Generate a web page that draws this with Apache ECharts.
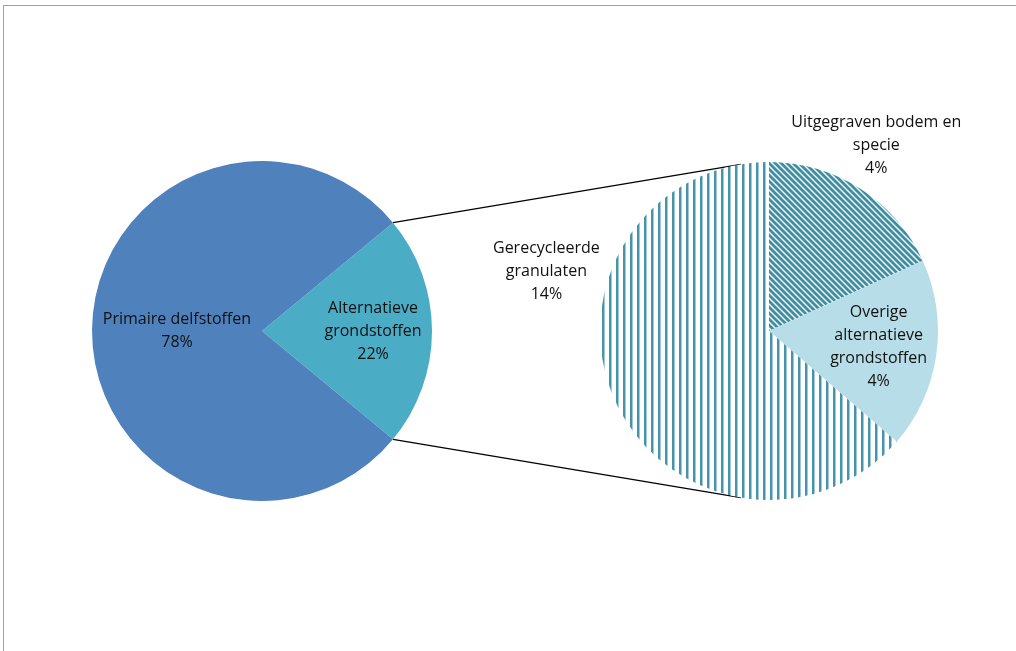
<!DOCTYPE html>
<html>
<head>
<meta charset="utf-8">
<script src="https://cdn.jsdelivr.net/npm/echarts@6/dist/echarts.min.js"></script>
<style>
html,body{margin:0;padding:0;background:#fff;}
#main{position:absolute;left:0;top:0;width:1016px;height:651px;}
#frame{position:absolute;left:3px;top:5px;width:1013px;height:646px;border-left:1px solid #a0a0a0;border-top:1px solid #a0a0a0;pointer-events:none;}
</style>
</head>
<body>
<div id="main"></div>
<div id="frame"></div>
<script>
// hoofdverdeling (linker taart)
var mainNames=['Alternatieve\ngrondstoffen','Primaire delfstoffen'];
var mainValues=[22,78];
// detail alternatieve grondstoffen (rechter taart)
var subNames=['Uitgegraven bodem en\nspecie','Overige\nalternatieve\ngrondstoffen','Gerecycleerde\ngranulaten'];
var subValues=[4,4,14];

var teal='#3d8ea4';

//streeppatroon maken op een klein canvas
function stripes(vertical){
    var c=document.createElement('canvas');
    var ctx=c.getContext('2d');
    if(vertical){
        c.width=7;c.height=4;
        ctx.fillStyle='#fff';ctx.fillRect(0,0,7,4);
        ctx.fillStyle='#4594aa';ctx.fillRect(0,0,2.5,4);
    }else{
        var s=6;
        c.width=s;c.height=s;
        ctx.fillStyle='#fff';ctx.fillRect(0,0,s,s);
        ctx.strokeStyle=teal;ctx.lineWidth=2.8;
        [-s,0,s].forEach(function(k){
            ctx.beginPath();ctx.moveTo(-1,k-1);ctx.lineTo(s+1,s+k+1);ctx.stroke();
        });
    }
    return {image:c,repeat:'repeat'};
}

var c1=[262,331],r1=170;
var c2=[769,331],r2=169;

var mainTotal=mainValues[0]+mainValues[1];
var half=mainValues[0]/mainTotal*Math.PI; //halve hoek van het uitgelichte stuk
var p1=[c1[0]+r1*Math.cos(half),c1[1]-r1*Math.sin(half)];
var p2=[c1[0]+r1*Math.cos(half),c1[1]+r1*Math.sin(half)];
var q1=[c2[0]-28,c2[1]-Math.sqrt(r2*r2-28*28)];
var q2=[c2[0]-28,c2[1]+Math.sqrt(r2*r2-28*28)];

var labelFont={fontFamily:'Open Sans',fontSize:16,lineHeight:23,color:'#111'};
var mainLabelShift=[[23,0],[3,0]];
var subLabelShift=[[60,-112],[23,3],[-143,-96]];

var option={
    animation:false,
    graphic:[
        {type:'line',shape:{x1:p1[0],y1:p1[1],x2:q1[0],y2:q1[1]},style:{stroke:'#000',lineWidth:1.3}},
        {type:'line',shape:{x1:p2[0],y1:p2[1],x2:q2[0],y2:q2[1]},style:{stroke:'#000',lineWidth:1.3}}
    ],
    series:[
        {
            type:'pie',
            center:c1,
            radius:r1,
            startAngle:mainValues[0]/mainTotal*180,
            clockwise:true,
            avoidLabelOverlap:false,
            label:Object.assign({show:true,position:'inside',formatter:'{b}\n{c}%'},labelFont),
            labelLine:{show:false},
            labelLayout:function(p){
                return {dx:mainLabelShift[p.dataIndex][0],dy:mainLabelShift[p.dataIndex][1]};
            },
            itemStyle:{borderWidth:0},
            emphasis:{disabled:true},
            data:mainNames.map(function(n,i){
                return {name:n,value:mainValues[i],itemStyle:{color:['#4bacc6','#4f81bd'][i]}};
            })
        },
        {
            type:'pie',
            center:c2,
            radius:r2,
            startAngle:90,
            clockwise:true,
            avoidLabelOverlap:false,
            label:Object.assign({show:true,position:'inside',formatter:'{b}\n{c}%'},labelFont),
            labelLine:{show:false},
            labelLayout:function(p){
                return {dx:subLabelShift[p.dataIndex][0],dy:subLabelShift[p.dataIndex][1]};
            },
            itemStyle:{borderWidth:0},
            emphasis:{disabled:true},
            data:subNames.map(function(n,i){
                return {name:n,value:subValues[i],itemStyle:{color:[stripes(false),'#b7dee8',stripes(true)][i]}};
            })
        }
    ]
};
var myChart=echarts.init(document.getElementById('main'));
myChart.setOption(option);
</script>
</body>
</html>
